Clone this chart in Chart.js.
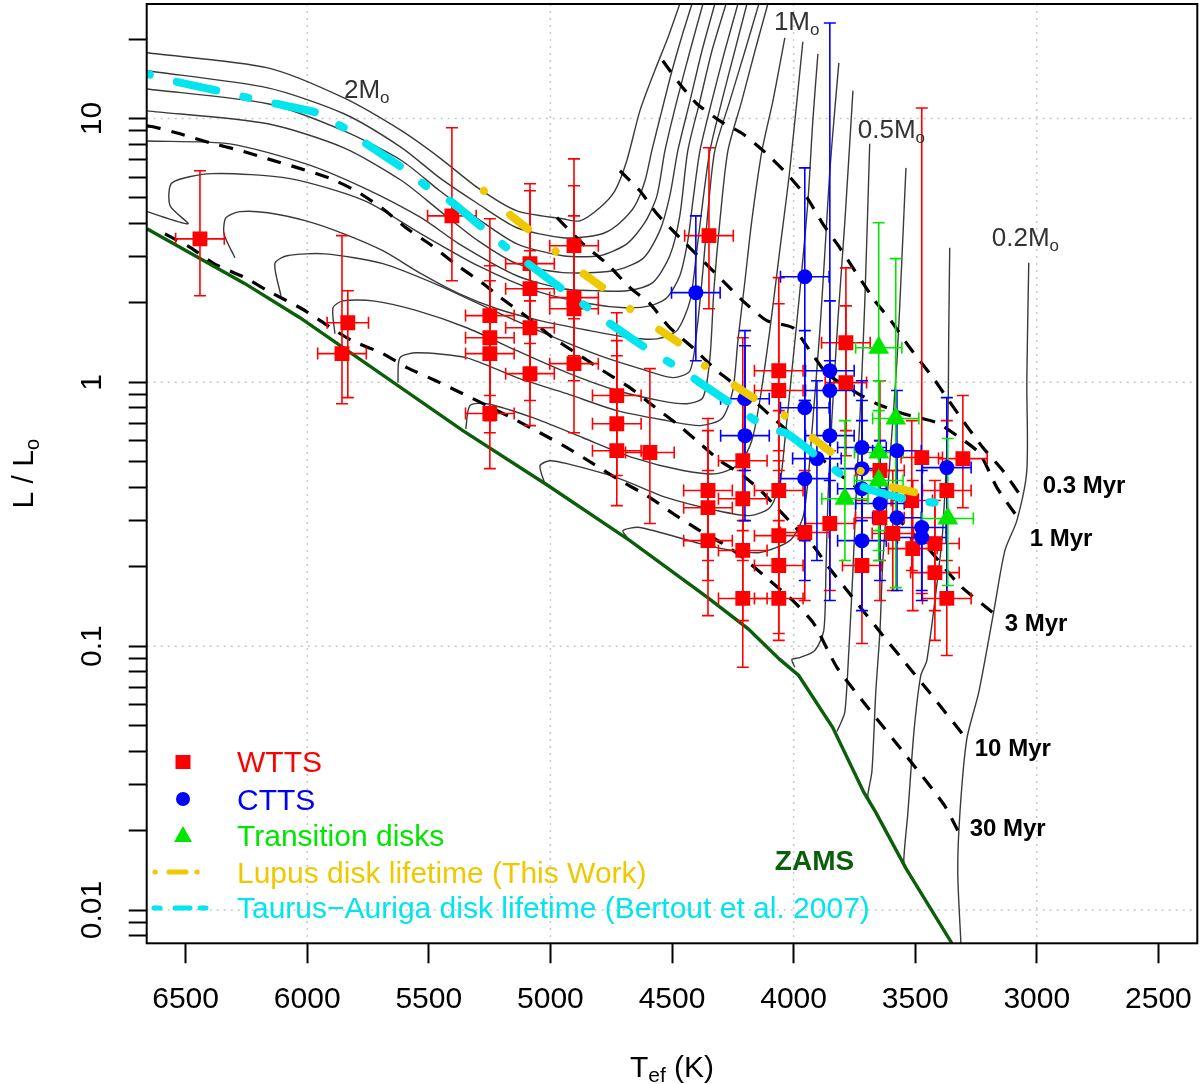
<!DOCTYPE html>
<html>
<head>
<meta charset="utf-8">
<script src="https://cdn.jsdelivr.net/npm/chart.js@4.4.1/dist/chart.umd.min.js"></script>
<style>
  html, body { margin: 0; padding: 0; background: #fff; }
  #wrap { width: 1200px; height: 1084px; }
</style>
</head>
<body>
<div id="wrap"><canvas id="chart"></canvas></div>
<script>
// temperatures in K, luminosities as log10(L/Lsun)

const xTicks = [2500, 3000, 3500, 4000, 4500, 5000, 5500, 6000, 6500];
const yDecades = [-2, -1, 0, 1];
const yLabels = ['0.01', '0.1', '1', '10'];

// evolutionary tracks, most massive first
const tracksT = [
  [6659, 6162, 5849, 5611, 5455, 5298, 5138, 4949, 4879, 4797, 4735, 4686, 4632, 4571, 4517, 4468],
  [6659, 6162, 5849, 5611, 5455, 5298, 5138, 4949, 4850, 4776, 4714, 4653, 4611, 4583, 4542, 4500, 4459, 4418],
  [6659, 6162, 5849, 5611, 5455, 5298, 5138, 4949, 4797, 4686, 4612, 4562, 4529, 4480, 4426, 4373],
  [6659, 6162, 5849, 5611, 5455, 5298, 5138, 4949, 4743, 4620, 4550, 4509, 4476, 4426, 4377, 4324],
  [6659, 6318, 6005, 5767, 5532, 5376, 5138, 4949, 4797, 4686, 4579, 4509, 4468, 4435, 4385, 4336, 4278],
  [6659, 6490, 6564, 6556, 6392, 6071, 5763, 5532, 5298, 5060, 4838, 4694, 4591, 4521, 4468, 4435, 4414, 4385, 4336, 4283, 4229],
  [6297, 6342, 6334, 6277, 6162, 6005, 5849, 5689, 5532, 5376, 5220, 5043, 4838, 4673, 4562, 4480, 4426, 4398, 4373, 4344, 4295, 4242, 4192],
  [6108, 6133, 6083, 5927, 5689, 5455, 5216, 5002, 4797, 4632, 4496, 4426, 4398, 4373, 4352, 4324, 4262, 4200, 4143],
  [5886, 5894, 5853, 5730, 5549, 5344, 5138, 4932, 4727, 4550, 4439, 4373, 4344, 4328, 4303, 4270, 4213, 4159, 4106],
  [5627, 5619, 5549, 5344, 5138, 4932, 4727, 4521, 4385, 4295, 4250, 4229, 4200, 4172, 4130, 4085, 4036],
  [5348, 5331, 5261, 5072, 4866, 4661, 4455, 4315, 4221, 4172, 4139, 4098, 4057, 4016, 3962],
  [5023, 5043, 5002, 4932, 4727, 4521, 4315, 4180, 4098, 4057, 4036, 4007, 3974, 3941, 3921, 3900],
  [4673, 4702, 4632, 4385, 4250, 4139, 4016, 3962, 3941, 3921, 3892, 3871, 3851, 3831, 3814],
  [3995, 4007, 3974, 3913, 3876, 3867, 3859, 3843, 3818, 3789, 3756],
  [3822, 3810, 3789, 3773, 3756, 3740, 3724, 3707, 3687],
  [3687, 3695, 3678, 3662, 3645, 3633, 3604, 3575, 3555, 3538],
  [3538, 3547, 3530, 3505, 3477, 3452, 3399, 3386, 3366, 3362, 3358],
  [3033, 3041, 3041, 3082, 3131, 3177, 3238, 3288, 3316, 3325, 3312]
];
const tracksL = [
  [1.249, 1.192, 1.078, 0.953, 0.851, 0.737, 0.650, 0.620, 0.612, 0.662, 0.726, 0.840, 1.029, 1.181, 1.306, 1.434],
  [1.181, 1.116, 1.018, 0.889, 0.775, 0.677, 0.586, 0.548, 0.552, 0.567, 0.605, 0.669, 0.764, 0.878, 1.029, 1.181, 1.313, 1.434],
  [1.112, 1.056, 0.953, 0.840, 0.726, 0.620, 0.525, 0.480, 0.480, 0.525, 0.605, 0.707, 0.878, 1.067, 1.256, 1.434],
  [1.029, 0.980, 0.889, 0.764, 0.650, 0.537, 0.450, 0.416, 0.423, 0.469, 0.575, 0.707, 0.878, 1.067, 1.256, 1.434],
  [0.915, 0.904, 0.828, 0.737, 0.624, 0.525, 0.404, 0.355, 0.347, 0.347, 0.378, 0.480, 0.631, 0.878, 1.067, 1.256, 1.434],
  [0.647, 0.601, 0.669, 0.756, 0.791, 0.772, 0.688, 0.563, 0.442, 0.347, 0.298, 0.283, 0.290, 0.321, 0.404, 0.537, 0.688, 0.878, 1.067, 1.256, 1.434],
  [0.472, 0.563, 0.624, 0.647, 0.643, 0.612, 0.563, 0.499, 0.412, 0.336, 0.279, 0.234, 0.196, 0.169, 0.165, 0.196, 0.309, 0.499, 0.688, 0.878, 1.067, 1.256, 1.434],
  [0.328, 0.450, 0.480, 0.487, 0.450, 0.366, 0.264, 0.177, 0.101, 0.052, 0.018, 0.044, 0.196, 0.423, 0.650, 0.878, 1.067, 1.256, 1.434],
  [0.184, 0.283, 0.309, 0.309, 0.272, 0.207, 0.120, 0.037, -0.031, -0.069, -0.081, -0.058, 0.093, 0.347, 0.612, 0.878, 1.067, 1.256, 1.434],
  [-0.001, 0.093, 0.112, 0.093, 0.018, -0.043, -0.107, -0.145, -0.164, -0.137, -0.031, 0.158, 0.385, 0.612, 0.878, 1.067, 1.306],
  [-0.176, -0.088, -0.081, -0.134, -0.210, -0.285, -0.334, -0.346, -0.308, -0.221, -0.069, 0.196, 0.499, 0.802, 1.291],
  [-0.384, -0.316, -0.297, -0.308, -0.361, -0.437, -0.486, -0.505, -0.475, -0.384, -0.221, 0.044, 0.347, 0.688, 0.991, 1.245],
  [-0.600, -0.562, -0.550, -0.611, -0.637, -0.645, -0.600, -0.513, -0.372, -0.145, 0.196, 0.499, 0.802, 1.029, 1.211],
  [-1.080, -1.050, -1.043, -1.016, -0.941, -0.713, -0.448, -0.145, 0.234, 0.612, 1.105],
  [-1.323, -1.300, -1.248, -1.020, -0.713, -0.372, -0.069, 0.309, 0.904],
  [-1.585, -1.566, -1.475, -1.172, -0.944, -0.675, -0.297, 0.082, 0.461, 0.813],
  [-1.842, -1.812, -1.630, -1.323, -1.111, -1.054, -0.675, -0.550, -0.172, 0.196, 0.510],
  [0.453, 0.006, -0.334, -0.524, -0.637, -0.869, -1.172, -1.353, -1.630, -1.857, -2.126]
];

// isochrones: 0.3, 1, 3, 10, 30 Myr
const isoT = [
  [4538, 4468, 4398, 4303, 4209, 4110, 4028, 3945, 3880, 3810, 3666, 3600, 3522, 3427, 3370, 3304, 3222, 3140, 3058],
  [4714, 4632, 4562, 4468, 4385, 4291, 4209, 4110, 4003, 3933, 3863, 3756, 3658, 3551, 3411, 3316, 3234, 3164, 3078],
  [4973, 4866, 4768, 4673, 4591, 4509, 4414, 4315, 4209, 4118, 4016, 3921, 3831, 3740, 3645, 3543, 3440, 3316, 3177],
  [6659, 6634, 6523, 6400, 6272, 6162, 6038, 5911, 5800, 5689, 5594, 5487, 5393, 5282, 5204, 5092, 4990, 4891, 4784,
   4673, 4579, 4480, 4398, 4303, 4213, 4135, 4073, 3995, 3917, 3855, 3789, 3711, 3633, 3538, 3444, 3288],
  [6585, 6478, 6384, 6256, 6162, 6022, 5927, 5816, 5689, 5590, 5471, 5360, 5261, 5154, 5043, 4932, 4825, 4714, 4603,
   4496, 4385, 4291, 4209, 4098, 4003, 3917, 3822, 3695, 3538, 3382, 3325]
];
const isoL = [
  [1.219, 1.131, 1.056, 0.991, 0.942, 0.866, 0.791, 0.700, 0.601, 0.510, 0.309, 0.234, 0.131, 0.018, -0.058, -0.145, -0.247, -0.334, -0.441],
  [0.802, 0.726, 0.639, 0.548, 0.472, 0.385, 0.309, 0.234, 0.207, 0.120, 0.033, -0.031, -0.081, -0.118, -0.153, -0.210, -0.270, -0.399, -0.513],
  [0.624, 0.525, 0.450, 0.359, 0.298, 0.207, 0.131, 0.044, -0.031, -0.107, -0.191, -0.259, -0.334, -0.399, -0.459, -0.543, -0.637, -0.770, -0.876],
  [0.972, 0.969, 0.942, 0.908, 0.878, 0.847, 0.813, 0.775, 0.726, 0.658, 0.586, 0.518, 0.450, 0.378, 0.321, 0.245, 0.169, 0.109, 0.044,
   -0.020, -0.088, -0.157, -0.221, -0.297, -0.350, -0.410, -0.471, -0.547, -0.622, -0.702, -0.778, -0.869, -0.959, -1.066, -1.172, -1.353],
  [0.563, 0.510, 0.450, 0.397, 0.347, 0.279, 0.222, 0.158, 0.109, 0.056, 0.006, -0.043, -0.088, -0.137, -0.191, -0.247, -0.308, -0.372, -0.429,
   -0.497, -0.562, -0.611, -0.664, -0.751, -0.827, -0.914, -1.080, -1.232, -1.414, -1.600, -1.698]
];

const zamsT = [6659, 6256, 6030, 5360, 5010, 4673, 4353, 4188, 4057, 3979, 3839, 3711, 3662, 3538, 3349];
const zamsL = [0.582, 0.374, 0.245, -0.183, -0.391, -0.600, -0.816, -0.933, -1.050, -1.111, -1.308, -1.554, -1.630, -1.842, -2.126];

// disk lifetime loci
const lupusT = [5274, 5171, 5084, 4982, 4870, 4784, 4673, 4558, 4468, 4365, 4254, 4159, 4036, 3933, 3843, 3728, 3613, 3493, 3366];
const lupusL = [0.726, 0.639, 0.575, 0.499, 0.416, 0.359, 0.279, 0.203, 0.147, 0.063, -0.005, -0.062, -0.126, -0.202, -0.266, -0.334, -0.391, -0.418, -0.437];
const taurusT = [6659, 6556, 6367, 6240, 6145, 5956, 5878, 5841, 5763, 5602, 5496, 5413, 5265, 5154, 5092, 4932, 4817, 4743, 4591,
  4468, 4385, 4233, 4110, 4028, 3880, 3769, 3674, 3510, 3358];
const taurusL = [1.169, 1.143, 1.105, 1.078, 1.059, 1.021, 0.980, 0.961, 0.908, 0.809, 0.734, 0.688, 0.575, 0.491, 0.450, 0.340, 0.264, 0.215, 0.120,
  0.052, -0.001, -0.096, -0.172, -0.194, -0.297, -0.372, -0.410, -0.448, -0.459];

// WTTS
const wttsT = [6441, 5833, 5857, 5405, 5249, 5249, 5249, 5249, 5084, 5084, 5084, 5084, 4903, 4903, 4903, 4903, 4727, 4727, 4727, 4591,
  4348, 4352, 4352, 4352, 4209, 4209, 4209, 4209, 4061, 4061, 4061, 4061, 4061, 4061, 3954, 3851, 3785, 3785, 3719, 3645,
  3645, 3592, 3514, 3473, 3510, 3419, 3419, 3370, 3370, 3304];
const wttsL = [0.544, 0.226, 0.109, 0.631, 0.253, 0.169, 0.109, -0.118, 0.450, 0.355, 0.207, 0.033, 0.518, 0.321, 0.279, 0.071, -0.050, -0.157, -0.259, -0.266,
  0.556, -0.410, -0.475, -0.600, -0.297, -0.441, -0.637, -0.819, 0.044, -0.031, -0.410, -0.581, -0.694, -0.819, -0.569, -0.535, 0.150, -0.001, -0.694, -0.334,
  -0.513, -0.573, -0.448, -0.285, -0.630, -0.611, -0.721, -0.410, -0.819, -0.289];
const wttsTErr = [100, 85, 100, 100, 100, 100, 100, 100, 100, 100, 100, 100, 100, 100, 100, 100, 100, 100, 100, 100,
  100, 100, 100, 100, 100, 100, 100, 100, 100, 100, 100, 100, 100, 100, 100, 100, 100, 85, 80, 100,
  100, 85, 85, 85, 100, 100, 100, 100, 100, 100];
const wttsLLo = [0.328, -0.058, -0.081, 0.385, -0.050, -0.145, -0.191, -0.327, 0.147, 0.006, -0.069, -0.164, 0.241, 0.101, 0.006, -0.191, -0.259, -0.353, -0.467, -0.535,
  0.279, -0.675, -0.751, -0.884, -0.562, -0.675, -0.903, -1.080, -0.259, -0.334, -0.675, -0.838, -0.952, -0.978, -0.827, -0.789, -0.183, -0.278, -0.990, -0.675,
  -0.827, -0.789, -0.713, -0.800, -0.865, -0.865, -0.978, -0.675, -1.035, -0.475];
const wttsLHi = [0.802, 0.347, 0.556, 0.965, 0.620, 0.442, 0.385, 0.158, 0.753, 0.726, 0.499, 0.309, 0.847, 0.745, 0.631, 0.309, 0.264, 0.158, 0.101, 0.052,
  0.889, -0.137, -0.183, -0.334, 0.169, -0.069, -0.334, -0.524, 0.397, 0.298, -0.107, -0.297, -0.410, -0.524, -0.334, -0.259, 0.434, 0.290, -0.448, 0.006,
  -0.221, -0.334, -0.145, 1.040, -0.372, -0.372, -0.448, -0.145, -0.524, -0.050];

// CTTS
const cttsT = [4402, 3954, 3851, 3851, 3954, 3851, 4200, 4200, 3719, 3719, 3719, 3719, 3954, 3904, 3645, 3575, 3575, 3473, 3473, 3370];
const cttsL = [0.340, 0.400, 0.044, -0.031, -0.096, -0.202, -0.202, -0.062, -0.247, -0.327, -0.403, -0.600, -0.365, -0.289, -0.459, -0.259, -0.513, -0.550, -0.588, -0.323];
const cttsTErr = [100, 100, 100, 100, 100, 100, 100, 100, 100, 100, 100, 100, 100, 100, 100, 100, 100, 100, 100, 100];
const cttsLLo = [0.082, -0.069, -0.372, -0.524, -0.600, -0.827, -0.524, -0.334, -0.524, -0.600, -0.675, -0.865, -0.751, -0.675, -0.751, -0.524, -0.789, -0.827, -0.789, -0.800];
const cttsLHi = [0.631, 0.813, 1.362, 0.309, 0.196, 0.082, 0.139, 0.196, 0.006, -0.069, -0.145, -0.334, -0.069, 0.006, -0.221, -0.031, -0.259, -0.297, -0.334, -0.058];

// transition disks
const tdT = [3650, 3580, 3650, 3650, 3789, 3366];
const tdL = [0.131, -0.137, -0.266, -0.372, -0.441, -0.516];
const tdTErr = [95, 95, 100, 100, 95, 105];
const tdLLo = [-0.637, -0.778, -0.562, -0.675, -0.675, -0.770];
const tdLHi = [0.605, 0.469, 0.006, -0.107, -0.145, -0.213];

const FONT = '"Liberation Sans", Arial, Helvetica, sans-serif';
const RED = '#ff0000', BLUE = '#0000ff', GREEN = '#00e600', GOLD = '#eec900', CYAN = '#00e5ee', ZGREEN = '#0b5f0b';

const pts = (T, L) => T.map((t, i) => ({ x: t, y: L[i] }));

const yMinor = [];
[-3, -2, -1, 0, 1].forEach(d => {
  for (let k = 1; k <= 9; k++) {
    const v = d + Math.log10(k);
    if (v >= -2.126 && v <= 1.434) yMinor.push(v);
  }
});

const datasets = [];
tracksT.forEach((T, i) => datasets.push({
  data: pts(T, tracksL[i]), showLine: true, pointRadius: 0, borderColor: '#3a3a3a',
  borderWidth: 1.4, tension: 0.25, clip: 0, order: 10
}));
isoT.forEach((T, i) => datasets.push({
  data: pts(T, isoL[i]), showLine: true, pointRadius: 0, borderColor: '#000',
  borderWidth: 3.2, borderDash: [14, 11], tension: 0.2, clip: 0, order: 9
}));
datasets.push({ data: pts(zamsT, zamsL), showLine: true, pointRadius: 0, borderColor: ZGREEN, borderWidth: 3.4, clip: 0, order: 8 });
datasets.push({ label: 'WTTS', data: pts(wttsT, wttsL), pointStyle: 'rect', pointRadius: 10.5, backgroundColor: RED, borderWidth: 0,
  errT: wttsTErr, lo: wttsLLo, hi: wttsLHi, barColor: RED, order: 7 });
datasets.push({ label: 'CTTS', data: pts(cttsT, cttsL), pointStyle: 'circle', pointRadius: 7.5, backgroundColor: BLUE, borderWidth: 0,
  errT: cttsTErr, lo: cttsLLo, hi: cttsLHi, barColor: BLUE, order: 6 });
datasets.push({ label: 'Transition disks', data: pts(tdT, tdL), pointStyle: 'triangle', pointRadius: 12, backgroundColor: GREEN, borderWidth: 0,
  errT: tdTErr, lo: tdLLo, hi: tdLHi, barColor: GREEN, order: 5 });
datasets.push({ data: pts(lupusT, lupusL), showLine: true, pointRadius: 0, borderColor: GOLD, borderWidth: 8,
  borderDash: [0.1, 36, 22, 36], borderCapStyle: 'round', tension: 0.2, clip: 0, order: 3 });
datasets.push({ data: pts(taurusT, taurusL), showLine: true, pointRadius: 0, borderColor: CYAN, borderWidth: 8,
  borderDash: [40, 28, 5, 28], borderDashOffset: 70, borderCapStyle: 'round', tension: 0.2, clip: 0, order: 2 });

function drawErrorBars(chart) {
  const xs = chart.scales.x, ys = chart.scales.y, ctx = chart.ctx, a = chart.chartArea;
  const cap = 6;
  ctx.save();
  ctx.beginPath();
  ctx.rect(a.left, a.top, a.right - a.left, a.bottom - a.top);
  ctx.clip();
  chart.data.datasets.forEach(ds => {
    if (!ds.errT) return;
    ctx.strokeStyle = ds.barColor;
    ctx.lineWidth = 1.6;
    ds.data.forEach((p, i) => {
      const px = xs.getPixelForValue(p.x), py = ys.getPixelForValue(p.y);
      const x0 = xs.getPixelForValue(p.x + ds.errT[i]), x1 = xs.getPixelForValue(p.x - ds.errT[i]);
      const y0 = ys.getPixelForValue(ds.lo[i]), y1 = ys.getPixelForValue(ds.hi[i]);
      ctx.beginPath();
      ctx.moveTo(x0, py); ctx.lineTo(x1, py);
      ctx.moveTo(x0, py - cap); ctx.lineTo(x0, py + cap);
      ctx.moveTo(x1, py - cap); ctx.lineTo(x1, py + cap);
      ctx.moveTo(px, y0); ctx.lineTo(px, y1);
      ctx.moveTo(px - cap, y0); ctx.lineTo(px + cap, y0);
      ctx.moveTo(px - cap, y1); ctx.lineTo(px + cap, y1);
      ctx.stroke();
    });
  });
  ctx.restore();
}

function subText(ctx, x, y, main, sub, size, subSize, drop) {
  ctx.font = size;
  ctx.fillText(main, x, y);
  const w = ctx.measureText(main).width;
  ctx.font = subSize;
  ctx.fillText(sub, x + w, y + drop);
  return w + ctx.measureText(sub).width;
}

const decor = {
  id: 'decor',
  beforeDatasetsDraw(chart) {
    const { ctx, chartArea: a, scales: { x: xs, y: ys } } = chart;
    ctx.save();
    ctx.strokeStyle = '#c8c8c8';
    ctx.lineWidth = 1.5;
    ctx.setLineDash([2, 5]);
    [3000, 4000, 5000, 6000].forEach(t => {
      const px = xs.getPixelForValue(t);
      ctx.beginPath(); ctx.moveTo(px, a.top); ctx.lineTo(px, a.bottom); ctx.stroke();
    });
    yDecades.forEach(d => {
      const py = ys.getPixelForValue(d);
      ctx.beginPath(); ctx.moveTo(a.left, py); ctx.lineTo(a.right, py); ctx.stroke();
    });
    ctx.restore();
  },
  beforeDatasetDraw(chart, args) {
    if (chart.data.datasets[args.index].label === 'WTTS') drawErrorBars(chart);
  },
  afterDatasetsDraw(chart) {
    const { ctx, chartArea: a, scales: { x: xs, y: ys } } = chart;
    const X = t => xs.getPixelForValue(t), Y = l => ys.getPixelForValue(l);
    ctx.save();
    // frame
    ctx.strokeStyle = '#000';
    ctx.lineWidth = 2;
    ctx.strokeRect(a.left, a.top, a.right - a.left, a.bottom - a.top);

    // y tick labels, rotated like R
    ctx.fillStyle = '#000';
    ctx.font = `30px ${FONT}`;
    ctx.textAlign = 'center';
    ctx.textBaseline = 'middle';
    yDecades.forEach((d, i) => {
      ctx.save();
      ctx.translate(93, Y(d));
      ctx.rotate(-Math.PI / 2);
      ctx.fillText(yLabels[i], 0, 0);
      ctx.restore();
    });

    ctx.textAlign = 'left';
    ctx.textBaseline = 'alphabetic';

    // axis titles
    ctx.font = `30px ${FONT}`;
    const wT = ctx.measureText('T').width, wK = ctx.measureText(' (K)').width;
    ctx.font = `21px ${FONT}`;
    const wEf = ctx.measureText('ef').width;
    const tx = (a.left + a.right) / 2 - (wT + wEf + wK) / 2;
    const ty = 1077;
    ctx.font = `30px ${FONT}`; ctx.fillText('T', tx, ty);
    ctx.font = `21px ${FONT}`; ctx.fillText('ef', tx + wT, ty + 5);
    ctx.font = `30px ${FONT}`; ctx.fillText(' (K)', tx + wT + wEf, ty);

    ctx.save();
    ctx.translate(33, (a.top + a.bottom) / 2);
    ctx.rotate(-Math.PI / 2);
    ctx.font = `30px ${FONT}`;
    const wL = ctx.measureText('L / L').width;
    ctx.font = `20px ${FONT}`;
    const wo = ctx.measureText('o').width;
    subText(ctx, -(wL + wo) / 2, 0, 'L / L', 'o', `30px ${FONT}`, `20px ${FONT}`, 6);
    ctx.restore();

    // mass labels
    ctx.fillStyle = '#333';
    [['2', 5849, 1.078], ['1', 4081, 1.336], ['0.5', 3736, 0.927], ['0.2', 3185, 0.518]].forEach(([m, t, l]) => {
      subText(ctx, X(t), Y(l), m + 'M', 'o', `26px ${FONT}`, `17px ${FONT}`, 5);
    });

    // isochrone ages
    ctx.fillStyle = '#000';
    ctx.font = `bold 24px ${FONT}`;
    [['0.3 Myr', 2976, -0.418], ['1 Myr', 3029, -0.622], ['3 Myr', 3132, -0.944],
     ['10 Myr', 3255, -1.418], ['30 Myr', 3276, -1.721]].forEach(([s, t, l]) => ctx.fillText(s, X(t), Y(l)));
    ctx.fillStyle = ZGREEN;
    ctx.font = `bold 28px ${FONT}`;
    ctx.fillText('ZAMS', X(4077), Y(-1.850));

    // legend
    const lx = 183, tx2 = 237;
    const rows = [772, 810, 846, 883, 918];
    ctx.fillStyle = RED;
    ctx.fillRect(lx - 7.5, rows[0] - 17, 15, 14);
    ctx.fillStyle = BLUE;
    ctx.beginPath(); ctx.arc(lx, rows[1] - 11, 7, 0, Math.PI * 2); ctx.fill();
    ctx.fillStyle = GREEN;
    ctx.beginPath(); ctx.moveTo(lx, rows[2] - 20); ctx.lineTo(lx + 9, rows[2] - 4); ctx.lineTo(lx - 9, rows[2] - 4); ctx.closePath(); ctx.fill();
    ctx.lineCap = 'round';
    ctx.lineWidth = 5;
    ctx.strokeStyle = GOLD;
    [[155, 155.2], [169, 186], [197, 197.2]].forEach(([s, e]) => {
      ctx.beginPath(); ctx.moveTo(s, rows[3] - 11); ctx.lineTo(e, rows[3] - 11); ctx.stroke();
    });
    ctx.strokeStyle = CYAN;
    [[154, 160], [175, 190], [200, 206]].forEach(([s, e]) => {
      ctx.beginPath(); ctx.moveTo(s, rows[4] - 10); ctx.lineTo(e, rows[4] - 10); ctx.stroke();
    });
    ctx.font = `30px ${FONT}`;
    const texts = ['WTTS', 'CTTS', 'Transition disks', 'Lupus disk lifetime (This Work)', 'Taurus\u2212Auriga disk lifetime (Bertout et al. 2007)'];
    const cols = [RED, BLUE, GREEN, GOLD, CYAN];
    texts.forEach((s, i) => { ctx.fillStyle = cols[i]; ctx.fillText(s, tx2, rows[i]); });
    ctx.restore();
  }
};

new Chart(document.getElementById('chart'), {
  type: 'scatter',
  data: { datasets },
  plugins: [decor],
  options: {
    responsive: true,
    maintainAspectRatio: false,
    animation: false,
    events: [],
    layout: { autoPadding: false, padding: { top: 4, right: 2.7, left: 0, bottom: 0 } },
    plugins: { legend: { display: false }, tooltip: { enabled: false } },
    scales: {
      x: {
        type: 'linear', reverse: true, min: 2340, max: 6660,
        afterBuildTicks: s => { s.ticks = xTicks.map(v => ({ value: v })); },
        afterFit: s => { s.height = 140.7; s.paddingLeft = 0; s.paddingRight = 0; },
        grid: { drawOnChartArea: false, drawTicks: true, tickLength: 20, tickWidth: 2, tickColor: '#000' },
        border: { display: false },
        ticks: { font: { family: FONT, size: 30 }, color: '#000', padding: 18, maxRotation: 0, autoSkip: false,
          callback: v => String(v) }
      },
      y: {
        type: 'linear', min: -2.126, max: 1.434,
        afterBuildTicks: s => { s.ticks = yMinor.map(v => ({ value: v })); },
        afterFit: s => { s.width = 146.7; s.paddingTop = 0; s.paddingBottom = 0; },
        grid: { drawOnChartArea: false, drawTicks: true, tickLength: 18, tickWidth: 2, tickColor: '#000' },
        border: { display: false },
        ticks: { display: false, autoSkip: false }
      }
    }
  }
});
</script>
</body>
</html>
